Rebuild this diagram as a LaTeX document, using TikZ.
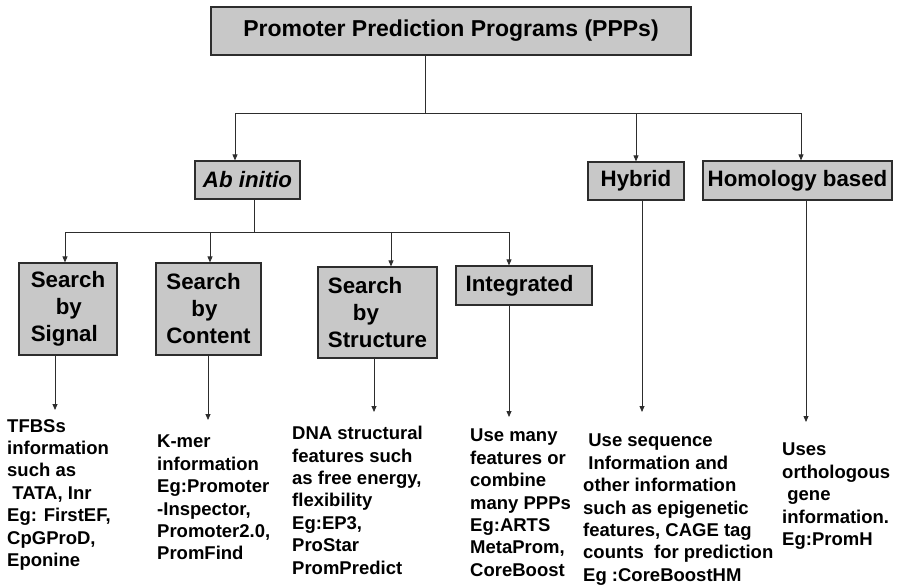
\documentclass[tikz,border=0pt]{standalone}
\usepackage{fontspec}
\setmainfont{Liberation Sans}
\usetikzlibrary{arrows.meta}
\definecolor{boxgray}{RGB}{200,200,200}
\definecolor{linegray}{RGB}{45,45,45}
\tikzset{
  box/.style={draw=linegray,line width=1.2pt,fill=boxgray,inner sep=0pt,align=left,
    font=\fontsize{22.3}{27}\selectfont\bfseries},
  info/.style={anchor=north west,inner sep=0pt,align=left,
    font=\fontsize{18.5}{22.4}\selectfont\bfseries},
  ln/.style={linegray,line width=0.8pt},
  arr/.style={ln,-{Triangle[length=6pt,width=5pt]}}
}
\begin{document}
\begin{tikzpicture}[x=1pt,y=-1pt]
\useasboundingbox (0,0) rectangle (897,586);
% boxes
\node[box,minimum width=480pt,minimum height=48pt,font=\fontsize{23}{27}\selectfont\bfseries] (ppp) at (451,31) {Promoter Prediction Programs (PPPs)};
\node[box,minimum width=105pt,minimum height=38pt] (abinitio) at (247.5,180) {\textit{Ab initio}};
\node[box,minimum width=96pt,minimum height=38pt] (hybrid) at (636,181) {Hybrid};
\node[box,minimum width=189pt,minimum height=39pt] (homology) at (797.5,180.5) {Homology based};
\node[box,minimum width=98pt,minimum height=92pt] (signal) at (68,309) {Search\\\hspace*{25pt}by\\Signal};
\node[box,minimum width=105pt,minimum height=92pt] (content) at (208.5,309) {Search\\\hspace*{25pt}by\\Content};
\node[box,minimum width=119pt,minimum height=91pt] (structure) at (377.5,312.5) {Search\\\hspace*{25pt}by\\Structure};
\node[box,minimum width=136pt,minimum height=39pt] (integrated) at (524,285.5) {Integrated\hspace*{9pt}};
% texts below
\node[info] (tsignal) at (7,419) {TFBSs\\information\\such as\\\hspace*{0.28em}TATA, Inr\\Eg: FirstEF,\\CpGProD,\\Eponine};
\node[info] (tcontent) at (157,435) {K-mer\\information\\Eg:Promoter\\-Inspector,\\Promoter2.0,\\PromFind};
\node[info] (tstructure) at (292,426) {DNA structural\\features such\\as free energy,\\flexibility\\Eg:EP3,\\ProStar\\PromPredict};
\node[info] (tintegrated) at (470,429) {Use many\\features or\\combine\\many PPPs\\Eg:ARTS\\MetaProm,\\CoreBoost};
\node[info] (thybrid) at (583,434) {\hspace*{0.28em}Use sequence\\\hspace*{0.28em}Information and\\other information\\such as epigenetic\\features, CAGE tag\\counts\ \ for prediction\\Eg :CoreBoostHM};
\node[info] (thomology) at (782,443) {Uses\\orthologous\\\hspace*{0.28em}gene\\information.\\Eg:PromH};
% top level branches
\coordinate (jtop) at (425,113);
\coordinate (jl) at (235,113);
\coordinate (jr) at (801,113);
\draw[ln] (ppp.south -| jtop) -- (jtop);
\draw[ln] (jl) -- (jr);
\draw[arr] (jl) -- (jl |- abinitio.north);
\draw[arr] (hybrid.north |- jtop) -- (hybrid.north);
\draw[arr] (jr) -- (jr |- homology.north);
% ab initio branches
\coordinate (jab) at (254,232);
\coordinate (jsig) at (65,232);
\coordinate (jcon) at (210,232);
\coordinate (jstr) at (391,232);
\coordinate (jint) at (509,232);
\draw[ln] (abinitio.south -| jab) -- (jab);
\draw[ln] (jsig) -- (jint);
\draw[arr] (jsig) -- (jsig |- signal.north);
\draw[arr] (jcon) -- (jcon |- content.north);
\draw[arr] (jstr) -- (jstr |- structure.north);
\draw[arr] (jint) -- (jint |- integrated.north);
% arrows to the texts
\coordinate (asig) at (55,410);
\coordinate (acon) at (208,420);
\coordinate (astr) at (374,412);
\coordinate (aint) at (509,417);
\coordinate (ahyb) at (642,412);
\coordinate (ahom) at (806,422);
\draw[arr] (signal.south -| asig) -- (asig);
\draw[arr] (content.south -| acon) -- (acon);
\draw[arr] (structure.south -| astr) -- (astr);
\draw[arr] (integrated.south -| aint) -- (aint);
\draw[arr] (hybrid.south -| ahyb) -- (ahyb);
\draw[arr] (homology.south -| ahom) -- (ahom);
\end{tikzpicture}
\end{document}
